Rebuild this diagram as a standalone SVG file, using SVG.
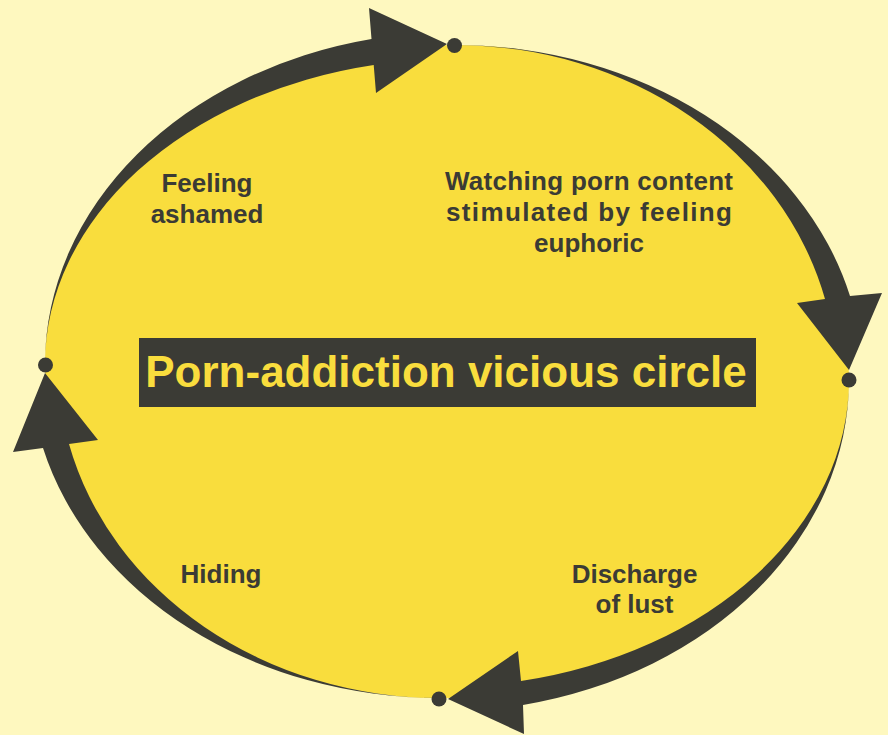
<svg xmlns="http://www.w3.org/2000/svg" width="888" height="735" viewBox="0 0 888 735">
  <style>
    .dark { fill: #3b3b35; }
    .lbl { font-family: "Liberation Sans", Arial, sans-serif; font-weight: bold; font-size: 26px; fill: #3b3b35; text-anchor: middle; }
    .title { font-family: "Liberation Sans", Arial, sans-serif; font-weight: bold; font-size: 44px; fill: #f9dd3d; text-anchor: middle; }
  </style>
  <rect x="0" y="0" width="888" height="735" fill="#fef8bf"/>
  <g id="cycle">
    <path d="M 455,45 A 394 335 0 0 1 849,380 A 409 318 0 0 1 440,698 A 395 334 0 0 1 45,364 A 410 319 0 0 1 455,45 Z" fill="#f9dd3d"/>
  </g>
  <g id="connectors">
    <path class="dark" d="M 45,364 A 410 332 0 0 1 371.5,39 L 369,8 L 447,44 L 376,93 L 373.7,65 A 410 305 0 0 0 45,364 Z"/>
    <path class="dark" d="M 455,45 A 408 335 0 0 1 850,296 L 882,293 L 849,370 L 797,303 L 825,299 A 381.3 335 0 0 0 455,45 Z"/>
    <path class="dark" d="M 849,380 A 409 331.9 0 0 1 523,705 L 524,734 L 448,699 L 518,651 L 521,681 A 409 307.1 0 0 0 849,380 Z"/>
    <path class="dark" d="M 440,698 A 410.2 334 0 0 1 43,448 L 13,452 L 45,373 L 98,440 L 69,444 A 382.1 334 0 0 0 440,698 Z"/>
    <circle class="dark" cx="454.5" cy="45.5" r="7.5"/>
    <circle class="dark" cx="849" cy="380" r="7.5"/>
    <circle class="dark" cx="439" cy="699" r="7.5"/>
    <circle class="dark" cx="45.5" cy="365" r="7.5"/>
  </g>
  <g id="title">
    <rect class="dark" x="139" y="338" width="617" height="69"/>
    <text class="title" x="446" y="387">Porn-addiction vicious circle</text>
  </g>
  <g id="feeling-ashamed">
    <text class="lbl" x="207" y="192">Feeling</text>
    <text class="lbl" x="207" y="223">ashamed</text>
  </g>
  <g id="watching">
    <text class="lbl" x="589" y="190" textLength="288" lengthAdjust="spacing">Watching porn content</text>
    <text class="lbl" x="589" y="221" textLength="286" lengthAdjust="spacing">stimulated by feeling</text>
    <text class="lbl" x="589" y="252">euphoric</text>
  </g>
  <g id="discharge">
    <text class="lbl" x="634.5" y="583">Discharge</text>
    <text class="lbl" x="634.5" y="613">of lust</text>
  </g>
  <g id="hiding">
    <text class="lbl" x="221" y="583">Hiding</text>
  </g>
</svg>
